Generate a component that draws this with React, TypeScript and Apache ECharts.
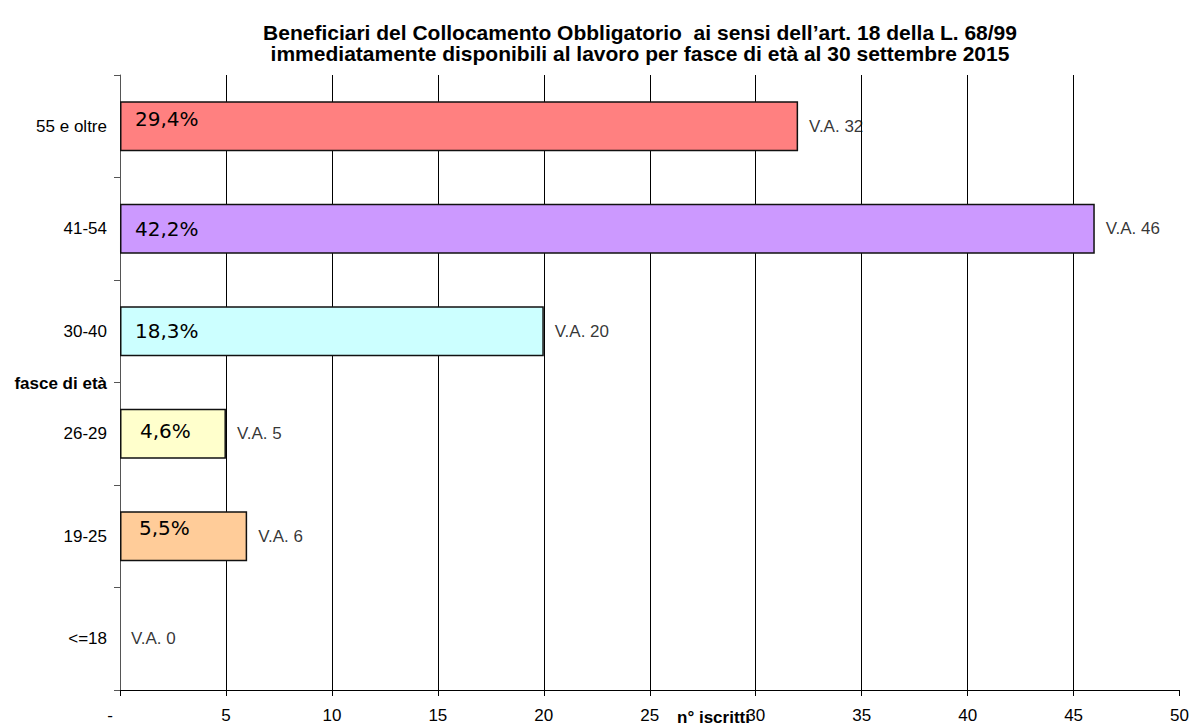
import React, { useEffect, useRef } from "react";
import * as echarts from "echarts";

const titleLines = [
  "Beneficiari del Collocamento Obbligatorio  ai sensi dell\u2019art. 18 della L. 68/99",
  "immediatamente disponibili al lavoro per fasce di et\u00e0 al 30 settembre 2015",
];
const categories = ["55 e oltre", "41-54", "30-40", "26-29", "19-25", "<=18"];
const counts = [32, 46, 20, 5, 6, 0];
const percents = [29.4, 42.2, 18.3, 4.6, 5.5, 0];
const barColors = ["#FF8080", "#CC99FF", "#CCFFFF", "#FFFFCC", "#FFCC99", "#FFFFFF"];
const xTicks = { min: 0, max: 50, interval: 5 };
const yAxisName = "fasce di et\u00e0";
const xAxisName = "n\u00b0 iscritti";

// label nudges (style only)
const pctOffsets = [
  [0, -7],
  [0, 0],
  [0, 0],
  [5, -3],
  [4, -8],
  [0, 0],
];

const FONT = "'Liberation Sans', Arial, sans-serif";

export default function App() {
  const ref = useRef<HTMLDivElement>(null);
  useEffect(() => {
    if (!ref.current) return;
    const chart = echarts.init(ref.current, null, { renderer: "svg" });
    chart.setOption({
      animation: false,
      backgroundColor: "#ffffff",
      grid: { left: 120, right: 12, top: 75, bottom: 37, containLabel: false },
      title: {
        text: titleLines.join("\n"),
        left: 635,
        textAlign: "center",
        top: 17,
        textStyle: {
          fontFamily: FONT,
          fontWeight: "bold",
          fontSize: 21,
          lineHeight: 21,
          color: "#000",
        },
      },
      xAxis: {
        type: "value",
        min: xTicks.min,
        max: xTicks.max,
        interval: xTicks.interval,
        axisLine: { show: true, lineStyle: { color: "#000", width: 1 } },
        axisTick: { show: true, length: 6, lineStyle: { color: "#000" } },
        axisLabel: {
          margin: 17,
          fontFamily: FONT,
          fontSize: 17,
          color: "#000",
          formatter: (v: number) => (v === 0 ? "{d|-}" : String(v)),
          rich: { d: { padding: [0, 20, 0, 0], fontFamily: FONT, fontSize: 17, color: "#000" } },
        },
        splitLine: {
          show: true,
          showMinLine: false,
          showMaxLine: false,
          lineStyle: { color: "#000", width: 1 },
        },
      },
      yAxis: {
        type: "category",
        data: categories,
        inverse: true,
        axisLine: { show: true, lineStyle: { color: "#555", width: 1 } },
        axisTick: { show: true, length: 6, lineStyle: { color: "#555" } },
        axisLabel: { margin: 13, fontFamily: FONT, fontSize: 17, color: "#000" },
        splitLine: { show: false },
      },
      graphic: [
        {
          type: "text",
          x: 107,
          y: 383,
          style: {
            text: yAxisName,
            align: "right",
            verticalAlign: "middle",
            fontFamily: FONT,
            fontWeight: "bold",
            fontSize: 17,
            fill: "#000",
          },
        },
        {
          type: "text",
          x: 677,
          y: 717,
          style: {
            text: xAxisName,
            align: "left",
            verticalAlign: "middle",
            fontFamily: FONT,
            fontWeight: "bold",
            fontSize: 17,
            fill: "#000",
          },
        },
      ],
      series: [
        {
          type: "bar",
          barWidth: "49%",
          data: counts.map((v, i) => ({
            value: v,
            itemStyle: {
              color: barColors[i],
              borderColor: "#111",
              borderWidth: v > 0 ? 1.5 : 0,
            },
            label: {
              show: percents[i] > 0,
              position: "insideLeft",
              distance: 15,
              offset: pctOffsets[i],
              formatter: () => percents[i].toFixed(1).replace(".", ",") + "%",
              fontFamily: "'DejaVu Sans', Verdana, sans-serif",
              fontSize: 20,
              color: "#000",
            },
          })),
        },
        {
          type: "scatter",
          symbolSize: 0,
          silent: true,
          data: counts.map((v, i) => [v, categories[i]]),
          label: {
            show: true,
            position: "right",
            distance: 11,
            formatter: (p: any) => "V.A. " + p.value[0],
            fontFamily: FONT,
            fontSize: 17,
            color: "#000",
          },
        },
      ],
    });
    return () => chart.dispose();
  }, []);
  return <div ref={ref} style={{ width: 1192, height: 727, position: "absolute", left: 0, top: 0 }} />;
}
